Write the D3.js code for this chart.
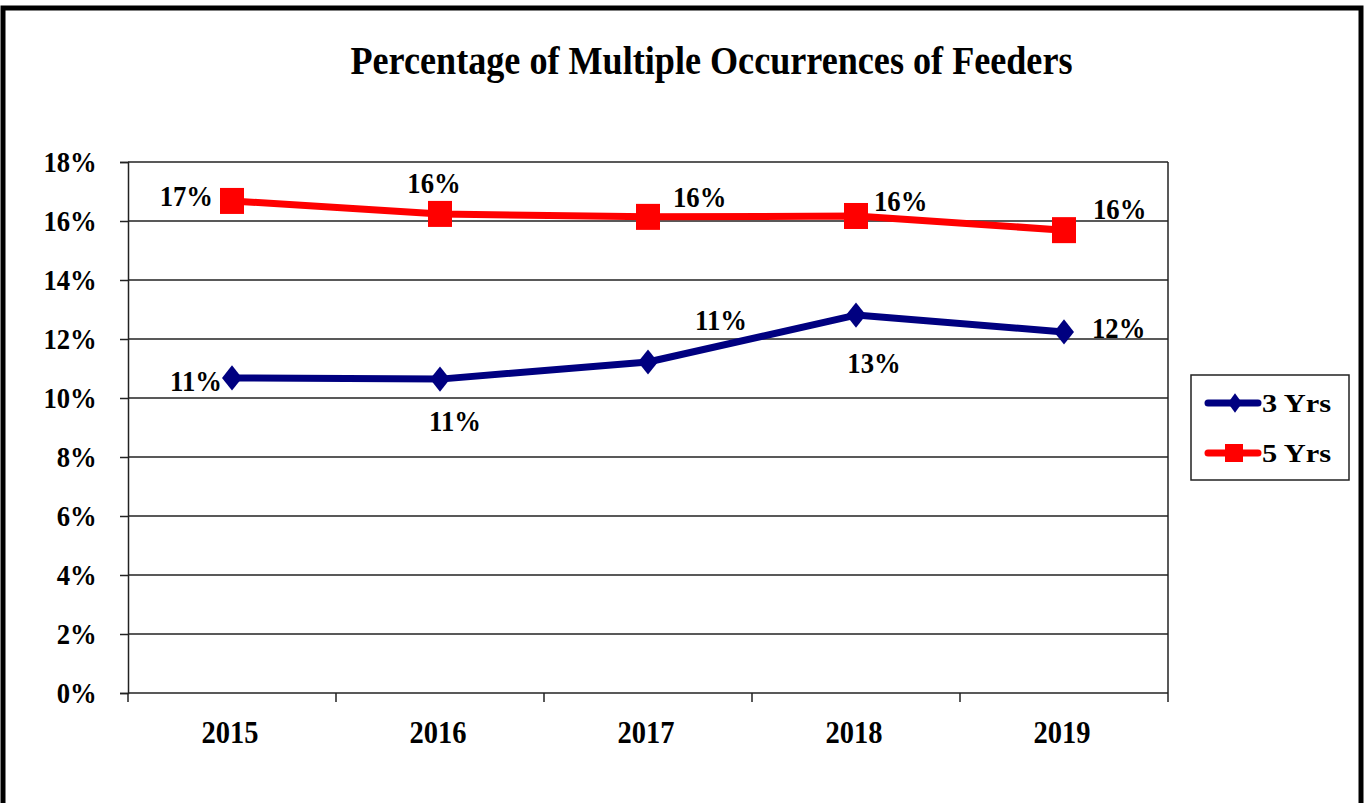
<!DOCTYPE html>
<html><head><meta charset="utf-8">
<script src="https://cdn.jsdelivr.net/npm/d3@7"></script>
<style>
html,body{margin:0;padding:0;background:#fff;}
svg{display:block;}
text{font-family:"Liberation Serif","Times New Roman",serif;font-weight:bold;fill:#000;}
</style></head>
<body>
<svg id="chart" width="1364" height="803"></svg>
<script>
const title = "Percentage of Multiple Occurrences of Feeders";
const years = ["2015", "2016", "2017", "2018", "2019"];
const yTicks = [0, 2, 4, 6, 8, 10, 12, 14, 16, 18];
const series3Name = "3 Yrs";
const series3Values = [10.68, 10.64, 11.22, 12.81, 12.24];
const series3Labels = ["11%", "11%", "11%", "13%", "12%"];
const series5Name = "5 Yrs";
const series5Values = [16.68, 16.24, 16.14, 16.17, 15.69];
const series5Labels = ["17%", "16%", "16%", "16%", "16%"];

const SX = 0.92; // horizontal squeeze of the text
const FS = 29;

const svg = d3.select("#chart");
svg.append("rect").attr("x", 3).attr("y", 8).attr("width", 1358).attr("height", 810)
  .attr("fill", "#fff").attr("stroke", "#000").attr("stroke-width", 5);

function label(g, x, y, txt, anchor, size) {
  return g.append("text").attr("transform", `translate(${x},${y}) scale(${SX},1)`)
    .attr("text-anchor", anchor).attr("dy", "0.35em").attr("font-size", size || FS).text(txt);
}

const plot = {left: 128, right: 1168, top: 162, bottom: 693};
const x = d3.scaleBand().domain(years).range([plot.left, plot.right]);
const y = d3.scaleLinear().domain([0, 18]).range([plot.bottom, plot.top]);
const cx = d => x(d) + x.bandwidth() / 2;

svg.append("text").attr("x", 711.5).attr("y", 74).attr("text-anchor", "middle")
  .attr("font-size", 39).attr("textLength", 722).attr("lengthAdjust", "spacingAndGlyphs")
  .text(title);

// gridlines
svg.append("g").selectAll("line").data(yTicks.filter(d => d > 0)).join("line")
  .attr("x1", plot.left).attr("x2", plot.right)
  .attr("y1", d => y(d)).attr("y2", d => y(d))
  .attr("stroke", "#222").attr("stroke-width", 1.5);
svg.append("line").attr("x1", plot.right).attr("x2", plot.right)
  .attr("y1", plot.top).attr("y2", plot.bottom).attr("stroke", "#222").attr("stroke-width", 1.5);

// y axis
const yAxis = d3.axisLeft(y).tickValues(yTicks).tickFormat(d => d + "%").tickSize(8).tickPadding(26);
const gy = svg.append("g").attr("transform", `translate(${plot.left},0)`).call(yAxis);
gy.select(".domain").attr("stroke", "#222").attr("stroke-width", 1.5);
gy.selectAll(".tick line").attr("stroke", "#222").attr("stroke-width", 1.5);
gy.selectAll(".tick text").attr("font-size", FS).attr("font-family", "Liberation Serif")
  .attr("font-weight", "bold").attr("fill", "#000").attr("dy", "0.33em")
  .attr("transform", `scale(${SX},1)`);

// x axis: ticks at category boundaries
const gx = svg.append("g").attr("transform", `translate(0,${plot.bottom})`);
gx.append("line").attr("x1", plot.left).attr("x2", plot.right).attr("stroke", "#222").attr("stroke-width", 1.5);
const bounds = years.map(d => x(d)).concat([plot.right]);
gx.selectAll("line.tk").data(bounds).join("line").attr("class", "tk")
  .attr("x1", d => d).attr("x2", d => d).attr("y1", 0).attr("y2", 9)
  .attr("stroke", "#222").attr("stroke-width", 1.5);
years.forEach(d => label(gx, cx(d) - 2, 39, d, "middle", 31));

const line = d3.line().x(d => cx(d[0])).y(d => y(d[1]));

function drawSeries(values, color, shape) {
  const pts = years.map((yr, i) => [yr, values[i]]);
  svg.append("path").datum(pts).attr("d", line).attr("fill", "none")
    .attr("stroke", color).attr("stroke-width", 7).attr("stroke-linejoin", "round");
  const g = svg.append("g");
  if (shape === "diamond") {
    g.selectAll("path").data(pts).join("path")
      .attr("d", d3.symbol().type(d3.symbolDiamond).size(190))
      .attr("transform", d => `translate(${cx(d[0])},${y(d[1])}) scale(1.35,0.98)`)
      .attr("fill", color);
  } else {
    g.selectAll("rect").data(pts).join("rect")
      .attr("x", d => cx(d[0]) - 12).attr("y", d => y(d[1]) - 13)
      .attr("width", 24).attr("height", 26).attr("fill", color);
  }
}
drawSeries(series3Values, "#000080", "diamond");
drawSeries(series5Values, "#ff0000", "square");

// data labels: offsets relative to each point
const off5 = [[-19, -5, "end"], [-6, -31, "middle"], [25, -20, "start"], [18, -15, "start"], [29, -21, "start"]];
const off3 = [[-10, 3, "end"], [15, 42, "middle"], [73, -42, "middle"], [18, 48, "middle"], [28, -4, "start"]];
function drawLabels(values, labels, offs) {
  const g = svg.append("g");
  values.forEach((d, i) => label(g, cx(years[i]) + offs[i][0], y(d) + offs[i][1], labels[i], offs[i][2]));
}
drawLabels(series5Values, series5Labels, off5);
drawLabels(series3Values, series3Labels, off3);

// legend
const lg = svg.append("g").attr("transform", "translate(1191,375)");
lg.append("rect").attr("width", 158).attr("height", 105).attr("fill", "#fff")
  .attr("stroke", "#222").attr("stroke-width", 1.5);
const items = [[series3Name, "#000080", "diamond"], [series5Name, "#ff0000", "square"]];
items.forEach((it, i) => {
  const yy = 28 + i * 50;
  lg.append("line").attr("x1", 17).attr("x2", 67).attr("y1", yy).attr("y2", yy)
    .attr("stroke", it[1]).attr("stroke-width", 7).attr("stroke-linecap", "round");
  if (it[2] === "diamond") {
    lg.append("path").attr("d", d3.symbol().type(d3.symbolDiamond).size(120)())
      .attr("transform", `translate(44,${yy}) scale(1.2,0.95)`).attr("fill", it[1]);
  } else {
    lg.append("rect").attr("x", 34).attr("y", yy - 9).attr("width", 18).attr("height", 18).attr("fill", it[1]);
  }
  lg.append("text").attr("x", 71).attr("y", yy).attr("dy", "0.35em")
    .attr("font-size", 26).attr("textLength", 69).attr("lengthAdjust", "spacingAndGlyphs").text(it[0]);
});
</script>
</body></html>
